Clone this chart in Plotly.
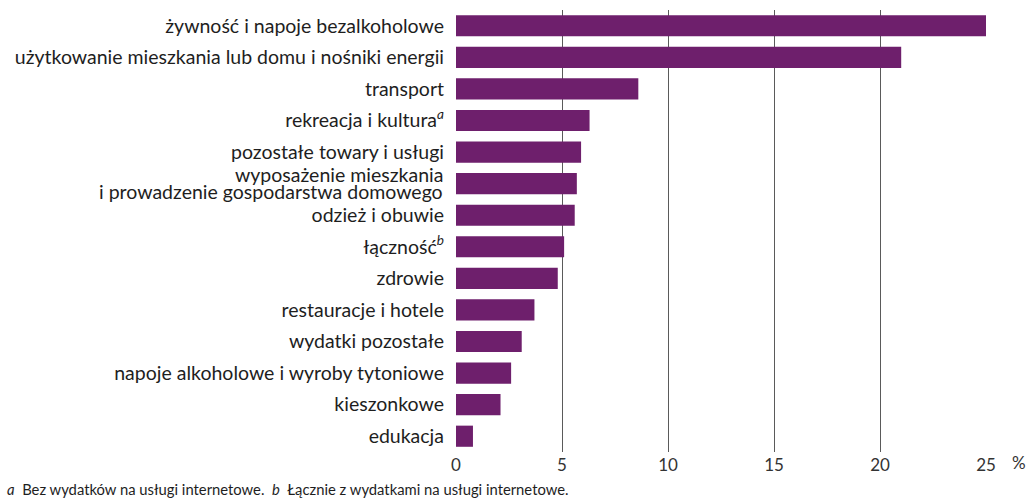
import plotly.graph_objects as go

categories = [
    "żywność i napoje bezalkoholowe",
    "użytkowanie mieszkania lub domu i nośniki energii",
    "transport",
    "rekreacja i kultura",
    "pozostałe towary i usługi",
    "wyposażenie mieszkania i prowadzenie gospodarstwa domowego",
    "odzież i obuwie",
    "łączność",
    "zdrowie",
    "restauracje i hotele",
    "wydatki pozostałe",
    "napoje alkoholowe i wyroby tytoniowe",
    "kieszonkowe",
    "edukacja",
]
tick_labels = [
    "żywność i napoje bezalkoholowe",
    "użytkowanie mieszkania lub domu i nośniki energii",
    "transport",
    "rekreacja i kultura<sup><i>a</i></sup>",
    "pozostałe towary i usługi",
    "",
    "odzież i obuwie",
    "łączność<sup><i>b</i></sup>",
    "zdrowie",
    "restauracje i hotele",
    "wydatki pozostałe",
    "napoje alkoholowe i wyroby tytoniowe",
    "kieszonkowe",
    "edukacja",
]
two_line_label = ["wyposażenie mieszkania", "i prowadzenie gospodarstwa domowego"]
values = [25.0, 21.0, 8.6, 6.3, 5.9, 5.7, 5.6, 5.1, 4.8, 3.7, 3.1, 2.6, 2.1, 0.8]
x_ticks = [0, 5, 10, 15, 20, 25]
footnote = ("<i>a</i>  Bez wydatków na usługi internetowe.  "
            "<i>b</i>  Łącznie z wydatkami na usługi internetowe.")

FONT = "Lato"
BAR = "#6E1F6C"
TXT = "#1e1e1e"
LABEL_SIZE = 19.5

fig = go.Figure(go.Bar(
    y=categories, x=values, orientation="h",
    marker=dict(color=BAR, line=dict(width=0)),
    width=0.67,
))

fig.update_layout(
    width=1027, height=499,
    margin=dict(l=456, r=41, t=10, b=47, autoexpand=False),
    paper_bgcolor="white", plot_bgcolor="white",
    showlegend=False,
    font=dict(family=FONT, color=TXT),
)
fig.update_xaxes(
    range=[0, 25], tickvals=x_ticks, ticktext=[str(v) for v in x_ticks],
    showgrid=True, gridcolor="#5a5a5a", gridwidth=1,
    zeroline=False, showline=False,
    tickfont=dict(family=FONT, size=17, color="#333"),
    ticks="", ticklabelstandoff=1,
)
fig.update_yaxes(
    categoryorder="array", categoryarray=categories, autorange="reversed",
    tickvals=categories, ticktext=tick_labels,
    showgrid=False, zeroline=False, showline=False,
    tickfont=dict(family=FONT, size=LABEL_SIZE, color=TXT),
    ticks="", ticklabelstandoff=11,
)
for line, shift in zip(two_line_label, [9, -7.5]):
    fig.add_annotation(text=line, xref="paper", yref="y", x=0, y=categories[5],
                       xanchor="right", yanchor="middle", xshift=-11, yshift=shift,
                       showarrow=False, font=dict(family=FONT, size=LABEL_SIZE, color=TXT))
fig.add_annotation(text="%", xref="paper", yref="paper", x=(1019 - 456) / 530, y=-11 / 442,
                   xanchor="center", yanchor="middle", showarrow=False,
                   font=dict(family=FONT, size=17, color="#333"))
fig.add_annotation(text=footnote, xref="paper", yref="paper", x=(5 - 456) / 530, y=-37 / 442,
                   xanchor="left", yanchor="middle", showarrow=False,
                   font=dict(family=FONT, size=14.8, color=TXT))

fig.write_html("out.html", config={"displayModeBar": False},
               post_script="document.body.style.margin='0';")
